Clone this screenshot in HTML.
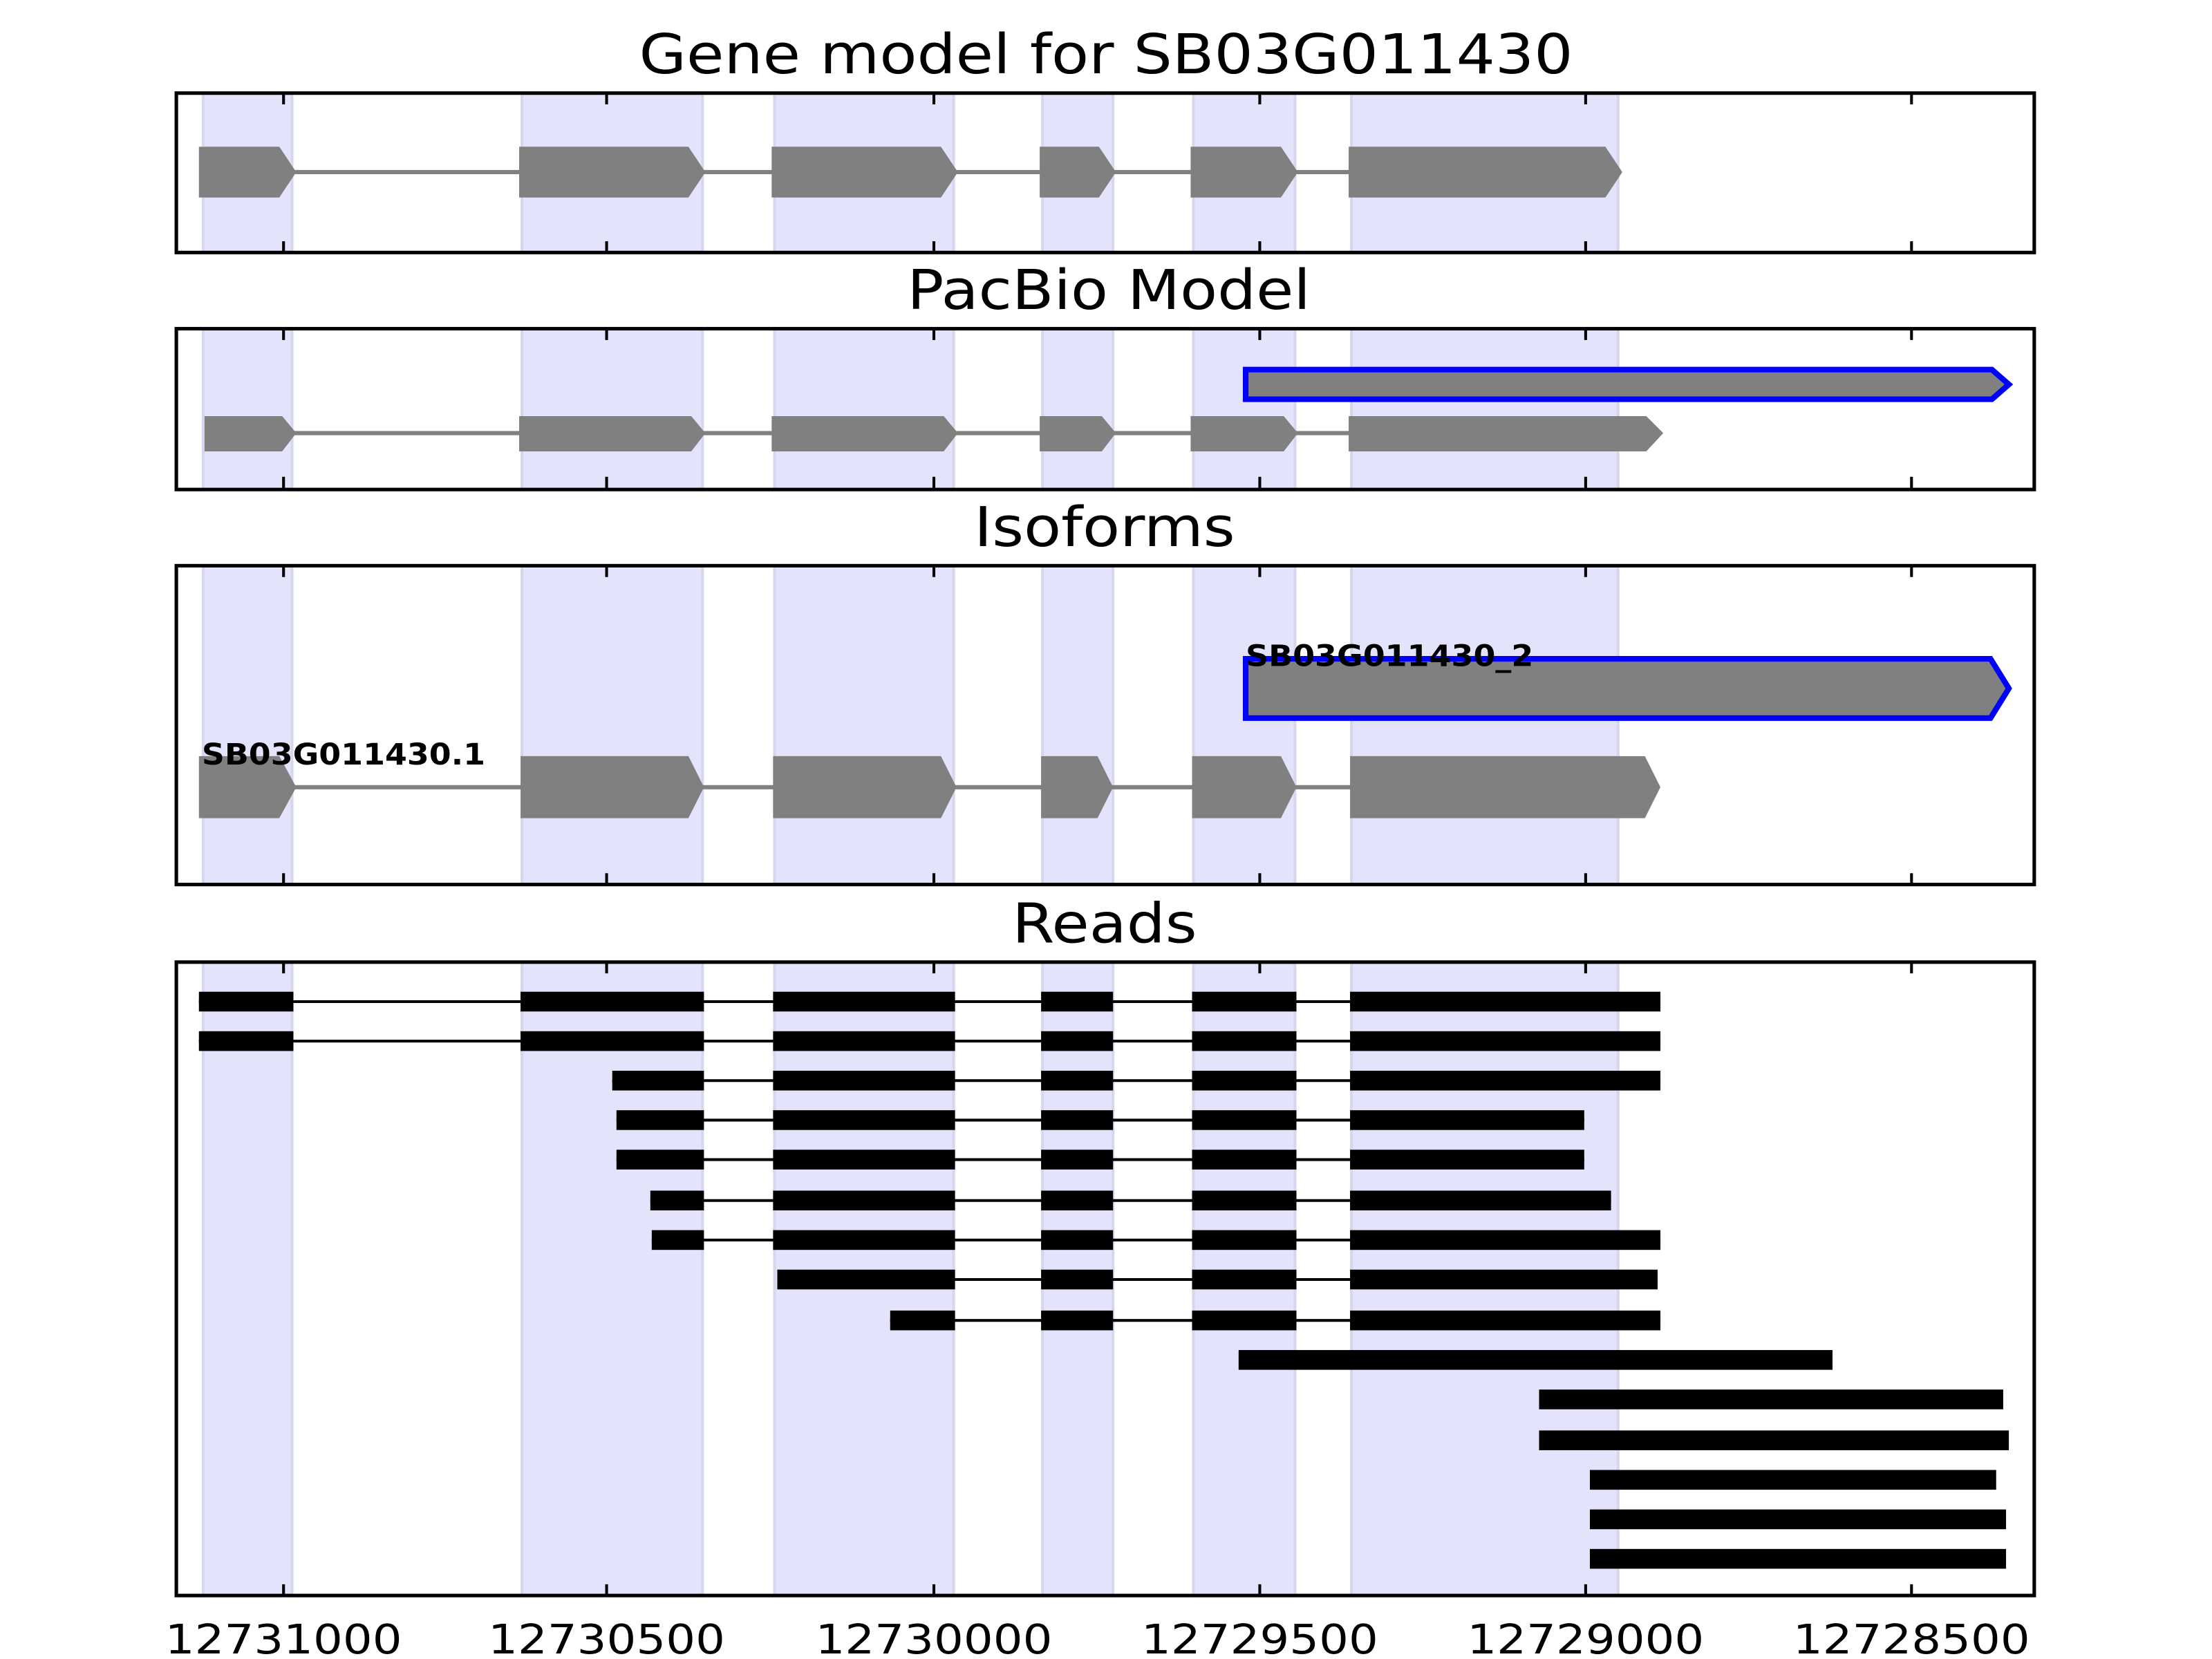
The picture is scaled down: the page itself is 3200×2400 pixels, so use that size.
<!DOCTYPE html>
<html><head><meta charset="utf-8"><style>html,body{margin:0;padding:0;background:#fff}svg{display:block}</style></head>
<body>
<svg width="3200" height="2400" viewBox="0 0 1568 1176" xmlns="http://www.w3.org/2000/svg" font-family="DejaVu Sans, Liberation Sans, sans-serif">
<defs>
<g id="bands">
<rect x="144" width="63" height="1200"/><rect x="370" width="128" height="1200"/><rect x="549" width="127" height="1200"/><rect x="739" width="50" height="1200"/><rect x="846" width="72" height="1200"/><rect x="958" width="189" height="1200"/>
</g>
</defs>
<rect width="1568" height="1176" fill="#fff"/>
<g font-size="39" text-anchor="middle" fill="#000">
<text x="784" y="52" textLength="662" lengthAdjust="spacingAndGlyphs">Gene model for SB03G011430</text>
<text x="786" y="219" textLength="286" lengthAdjust="spacingAndGlyphs">PacBio Model</text>
<text x="783" y="387" textLength="185" lengthAdjust="spacingAndGlyphs">Isoforms</text>
<text x="783" y="668" textLength="131" lengthAdjust="spacingAndGlyphs">Reads</text>
</g>
<clipPath id="c1"><rect x="125" y="66" width="1317" height="113"/></clipPath>
<clipPath id="c2"><rect x="125" y="233" width="1317" height="114"/></clipPath>
<clipPath id="c3"><rect x="125" y="401" width="1317" height="226"/></clipPath>
<clipPath id="c4"><rect x="125" y="682" width="1317" height="449"/></clipPath>
<g fill="#e3e3fc" stroke="#d6d6ee" stroke-width="2">
<use href="#bands" clip-path="url(#c1)"/>
<use href="#bands" clip-path="url(#c2)"/>
<use href="#bands" clip-path="url(#c3)"/>
<use href="#bands" clip-path="url(#c4)"/>
</g>
<g fill="#808080">
<line x1="205" y1="122" x2="956" y2="122" stroke="#808080" stroke-width="3"/>
<polygon points="141,104 198,104 210,122 198,140 141,140"/>
<polygon points="368,104 488,104 500,122 488,140 368,140"/>
<polygon points="547,104 667,104 679,122 667,140 547,140"/>
<polygon points="737,104 779,104 791,122 779,140 737,140"/>
<polygon points="844,104 908,104 920,122 908,140 844,140"/>
<polygon points="956,104 1138,104 1150,122 1138,140 956,140"/>
</g>
<g fill="#808080">
<line x1="205" y1="307" x2="960" y2="307" stroke="#808080" stroke-width="3"/>
<polygon points="145,295 200,295 210,307 200,320 145,320"/>
<polygon points="368,295 490,295 500,307 490,320 368,320"/>
<polygon points="547,295 669,295 679,307 669,320 547,320"/>
<polygon points="737,295 781,295 791,307 781,320 737,320"/>
<polygon points="844,295 910,295 920,307 910,320 844,320"/>
<polygon points="956,295 1167,295 1179,307 1167,320 956,320"/>
<polygon points="883,262 1412,262 1424,272.5 1412,283 883,283" stroke="#0000ff" stroke-width="4"/>
</g>
<g fill="#808080">
<line x1="205" y1="558" x2="960" y2="558" stroke="#808080" stroke-width="3"/>
<polygon points="141,536 198,536 210,558 198,580 141,580"/>
<polygon points="369,536 488,536 499,558 488,580 369,580"/>
<polygon points="548,536 667,536 678,558 667,580 548,580"/>
<polygon points="738,536 778,536 789,558 778,580 738,580"/>
<polygon points="845,536 908,536 919,558 908,580 845,580"/>
<polygon points="957,536 1166,536 1177,558 1166,580 957,580"/>
<polygon points="883,467 1411,467 1424,488 1411,509 883,509" stroke="#0000ff" stroke-width="4"/>
</g>
<g font-size="21" font-weight="bold" fill="#000">
<text x="143" y="542" textLength="201" lengthAdjust="spacingAndGlyphs">SB03G011430.1</text>
<text x="883" y="472" textLength="204" lengthAdjust="spacingAndGlyphs">SB03G011430_2</text>
</g>
<g stroke="#000" stroke-width="2">
<line x1="141" y1="710" x2="1177" y2="710"/><line x1="141" y1="738" x2="1177" y2="738"/>
<line x1="434" y1="766" x2="1177" y2="766"/><line x1="437" y1="794" x2="1123" y2="794"/>
<line x1="437" y1="822" x2="1123" y2="822"/><line x1="461" y1="851" x2="1142" y2="851"/>
<line x1="462" y1="879" x2="1177" y2="879"/><line x1="551" y1="907" x2="1175" y2="907"/>
<line x1="631" y1="936" x2="1177" y2="936"/>
</g>
<g fill="#000">
<g id="r1">
<rect x="141" y="703" width="67" height="14"/><rect x="369" y="703" width="130" height="14"/><rect x="548" y="703" width="129" height="14"/><rect x="738" y="703" width="51" height="14"/><rect x="845" y="703" width="74" height="14"/><rect x="957" y="703" width="220" height="14"/>
</g>
<use href="#r1" y="28"/>
<g id="mid">
<rect x="548" y="759" width="129" height="14"/><rect x="738" y="759" width="51" height="14"/><rect x="845" y="759" width="74" height="14"/>
</g>
<rect x="434" y="759" width="65" height="14"/><rect x="957" y="759" width="220" height="14"/>
<use href="#mid" y="28"/><rect x="437" y="787" width="62" height="14"/><rect x="957" y="787" width="166" height="14"/>
<use href="#mid" y="56"/><rect x="437" y="815" width="62" height="14"/><rect x="957" y="815" width="166" height="14"/>
<use href="#mid" y="85"/><rect x="461" y="844" width="38" height="14"/><rect x="957" y="844" width="185" height="14"/>
<use href="#mid" y="113"/><rect x="462" y="872" width="37" height="14"/><rect x="957" y="872" width="220" height="14"/>
<rect x="551" y="900" width="126" height="14"/><rect x="738" y="900" width="51" height="14"/><rect x="845" y="900" width="74" height="14"/><rect x="957" y="900" width="218" height="14"/>
<rect x="631" y="929" width="46" height="14"/><rect x="738" y="929" width="51" height="14"/><rect x="845" y="929" width="74" height="14"/><rect x="957" y="929" width="220" height="14"/>
<rect x="878" y="957" width="421" height="14"/>
<rect x="1091" y="985" width="329" height="14"/>
<rect x="1091" y="1014" width="333" height="14"/>
<rect x="1127" y="1042" width="288" height="14"/>
<rect x="1127" y="1070" width="295" height="14"/>
<rect x="1127" y="1098" width="295" height="14"/>
</g>
<g fill="none" stroke="#000" stroke-width="2.5">
<rect x="125" y="66" width="1317" height="113"/>
<rect x="125" y="233" width="1317" height="114"/>
<rect x="125" y="401" width="1317" height="226"/>
<rect x="125" y="682" width="1317" height="449"/>
</g>
<g stroke="#000" stroke-width="2">
<path id="tk" d="M201,66v8M430,66v8M662,66v8M893,66v8M1124,66v8M1355,66v8M201,179v-8M430,179v-8M662,179v-8M893,179v-8M1124,179v-8M1355,179v-8"/>
<use href="#tk" transform="translate(0,167)"/>
<path d="M201,401v8M430,401v8M662,401v8M893,401v8M1124,401v8M1355,401v8M201,627v-8M430,627v-8M662,627v-8M893,627v-8M1124,627v-8M1355,627v-8"/>
<path d="M201,682v8M430,682v8M662,682v8M893,682v8M1124,682v8M1355,682v8M201,1131v-8M430,1131v-8M662,1131v-8M893,1131v-8M1124,1131v-8M1355,1131v-8"/>
</g>
<g font-size="29" text-anchor="middle" fill="#000">
<text x="201" y="1172" textLength="168" lengthAdjust="spacingAndGlyphs">12731000</text>
<text x="430" y="1172" textLength="168" lengthAdjust="spacingAndGlyphs">12730500</text>
<text x="662" y="1172" textLength="168" lengthAdjust="spacingAndGlyphs">12730000</text>
<text x="893" y="1172" textLength="168" lengthAdjust="spacingAndGlyphs">12729500</text>
<text x="1124" y="1172" textLength="168" lengthAdjust="spacingAndGlyphs">12729000</text>
<text x="1355" y="1172" textLength="168" lengthAdjust="spacingAndGlyphs">12728500</text>
</g>
</svg>
</body></html>
